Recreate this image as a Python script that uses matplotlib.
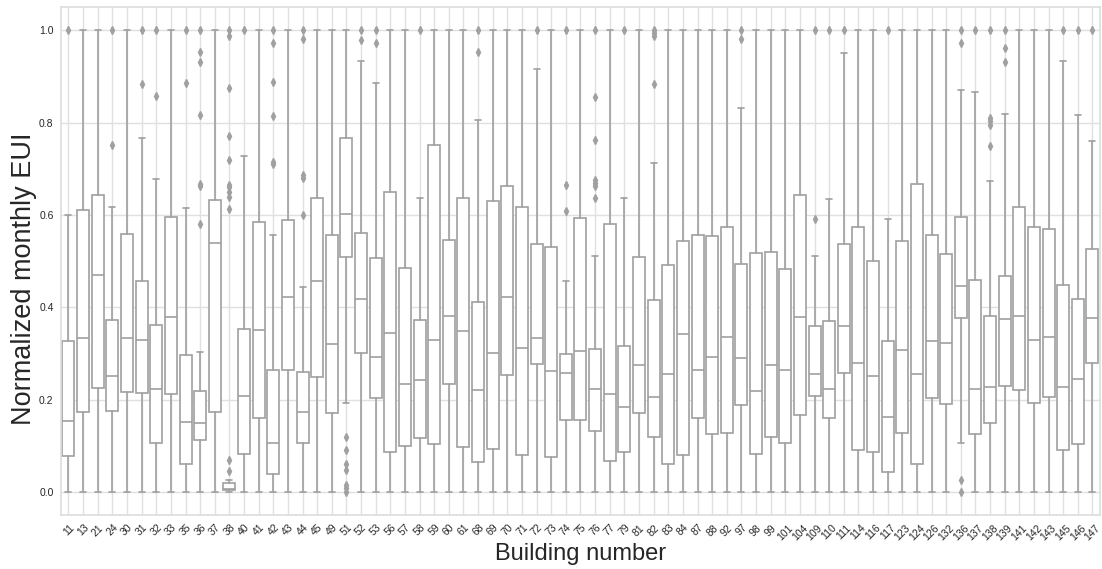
import matplotlib
matplotlib.use("Agg")
import matplotlib.pyplot as plt
import seaborn as sns

buildings = [11, 13, 21, 24, 30, 31, 32, 33, 35, 36, 37, 38, 40, 41, 42, 43, 44, 45, 49, 51,
             52, 53, 56, 57, 58, 59, 60, 61, 68, 69, 70, 71, 72, 73, 74, 75, 76, 77, 79, 81,
             82, 83, 84, 87, 88, 92, 97, 98, 99, 101, 104, 109, 110, 111, 114, 116, 117, 123, 124, 126,
             132, 136, 137, 138, 139, 141, 142, 143, 145, 146, 147]

q1 = [0.078, 0.173, 0.225, 0.175, 0.216, 0.215, 0.107, 0.212, 0.061, 0.113, 0.174, 0.003, 0.083, 0.161, 0.039, 0.264, 0.105, 0.250, 0.171, 0.508,
      0.301, 0.203, 0.087, 0.099, 0.116, 0.104, 0.234, 0.098, 0.065, 0.094, 0.254, 0.081, 0.278, 0.076, 0.156, 0.156, 0.131, 0.067, 0.086, 0.172,
      0.120, 0.060, 0.080, 0.160, 0.125, 0.127, 0.189, 0.082, 0.118, 0.106, 0.166, 0.208, 0.160, 0.258, 0.091, 0.087, 0.042, 0.127, 0.060, 0.203,
      0.191, 0.377, 0.126, 0.149, 0.229, 0.221, 0.193, 0.205, 0.090, 0.103, 0.279]

medians = [0.154, 0.334, 0.470, 0.251, 0.334, 0.330, 0.223, 0.378, 0.152, 0.149, 0.540, 0.006, 0.208, 0.351, 0.105, 0.422, 0.173, 0.457, 0.321, 0.602,
           0.418, 0.292, 0.344, 0.234, 0.242, 0.329, 0.381, 0.349, 0.220, 0.300, 0.423, 0.312, 0.334, 0.263, 0.257, 0.305, 0.223, 0.212, 0.183, 0.275,
           0.205, 0.256, 0.343, 0.264, 0.292, 0.335, 0.291, 0.218, 0.275, 0.264, 0.378, 0.256, 0.222, 0.359, 0.280, 0.252, 0.162, 0.308, 0.255, 0.326,
           0.322, 0.446, 0.223, 0.228, 0.375, 0.381, 0.330, 0.335, 0.227, 0.245, 0.377]

q3 = [0.326, 0.611, 0.644, 0.372, 0.558, 0.457, 0.361, 0.595, 0.297, 0.219, 0.633, 0.020, 0.353, 0.585, 0.264, 0.590, 0.259, 0.636, 0.556, 0.766,
      0.561, 0.506, 0.649, 0.485, 0.373, 0.751, 0.546, 0.637, 0.411, 0.631, 0.663, 0.618, 0.537, 0.530, 0.299, 0.594, 0.309, 0.580, 0.316, 0.508,
      0.415, 0.491, 0.544, 0.557, 0.555, 0.573, 0.493, 0.518, 0.519, 0.484, 0.644, 0.360, 0.371, 0.538, 0.575, 0.500, 0.326, 0.543, 0.667, 0.557,
      0.516, 0.595, 0.459, 0.382, 0.468, 0.617, 0.574, 0.569, 0.448, 0.419, 0.526]

whisker_low = [0.0] * 19 + [0.193] + [0.0] * 41 + [0.106] + [0.0] * 9

whisker_high = [0.600, 1.0, 1.0, 0.618, 1.0, 0.767, 0.678, 1.0, 0.616, 0.304, 1.0, 0.025, 0.728, 1.0, 0.557, 1.0, 0.445, 1.0, 1.0, 1.0,
                0.933, 0.887, 1.0, 1.0, 0.637, 1.0, 1.0, 1.0, 0.806, 1.0, 1.0, 1.0, 0.917, 1.0, 0.456, 1.0, 0.512, 1.0, 0.637, 1.0,
                0.713, 1.0, 1.0, 1.0, 1.0, 1.0, 0.832, 1.0, 1.0, 1.0, 1.0, 0.511, 0.634, 0.952, 1.0, 1.0, 0.591, 1.0, 1.0, 1.0,
                1.0, 0.871, 0.867, 0.674, 0.819, 1.0, 1.0, 1.0, 0.934, 0.816, 0.760]

outliers = {
    11: [1.0], 24: [0.751, 1.0], 31: [0.883, 1.0], 32: [0.859, 1.0], 35: [0.887, 1.0],
    36: [0.580, 0.664, 0.668, 0.816, 0.932, 0.954, 1.0],
    38: [0.045, 0.070, 0.614, 0.640, 0.650, 0.660, 0.665, 0.720, 0.772, 0.876, 0.989, 1.0],
    40: [1.0], 42: [0.710, 0.715, 0.815, 0.888, 0.973, 1.0], 44: [0.600, 0.681, 0.686, 0.982, 1.0],
    51: [0.12, 0.09, 0.06, 0.048, 0.015, 0.008, 0.0], 52: [0.98, 1.0], 53: [0.972, 1.0],
    58: [1.0], 68: [0.954, 1.0], 72: [1.0], 74: [0.608, 0.665, 1.0],
    76: [0.637, 0.662, 0.670, 0.677, 0.763, 0.855, 1.0], 79: [1.0], 82: [0.885, 0.987, 0.995, 1.0],
    97: [0.982, 1.0], 109: [0.592, 1.0], 110: [1.0], 111: [1.0], 117: [1.0],
    136: [0.972, 1.0, 0.026, 0.0], 137: [1.0], 138: [0.749, 0.795, 0.803, 0.810, 1.0],
    139: [0.931, 0.962, 1.0], 145: [1.0], 146: [1.0], 147: [1.0],
}

sns.set_style("whitegrid")
plt.rcParams['font.family'] = ['Liberation Sans', 'DejaVu Sans']

stats = []
for i, b in enumerate(buildings):
    stats.append({
        'med': medians[i], 'q1': q1[i], 'q3': q3[i],
        'whislo': whisker_low[i], 'whishi': whisker_high[i],
        'fliers': outliers.get(b, []), 'label': str(b),
    })

gray = '#a0a0a0'
lw = 1.2
fig = plt.figure(figsize=(11.02, 5.69), dpi=100)
ax = fig.add_axes([0.0555, 0.095, 0.9425, 0.892])

ax.bxp(stats, positions=range(len(buildings)), widths=0.82, patch_artist=True,
       boxprops=dict(facecolor='white', edgecolor=gray, linewidth=lw),
       medianprops=dict(color=gray, linewidth=lw),
       whiskerprops=dict(color=gray, linewidth=lw),
       capprops=dict(color=gray, linewidth=lw),
       flierprops=dict(marker='d', markerfacecolor=gray, markeredgecolor=gray, markersize=4))

ax.set_xlim(-0.5, len(buildings) - 0.5)
ax.set_ylim(-0.05, 1.05)
ax.set_xticks(range(len(buildings)))
ax.set_xticklabels([str(b) for b in buildings], rotation=45, fontsize=7.5)
ax.set_yticks([0.0, 0.2, 0.4, 0.6, 0.8, 1.0])
ax.set_yticklabels(['0.0', '0.2', '0.4', '0.6', '0.8', '1.0'], fontsize=7.5)
ax.tick_params(axis='both', pad=2, colors='#262626')
ax.grid(True, axis='both', color='#e0e0e0', linewidth=1)
ax.set_axisbelow(True)
for s in ax.spines.values():
    s.set_color('#dddddd')
    s.set_linewidth(1.2)

ax.set_xlabel('Building number', fontsize=17, labelpad=1)
ax.set_ylabel('Normalized monthly EUI', fontsize=19.5)
ax.yaxis.set_label_coords(-0.023, 0.465)

plt.savefig('out.png', dpi=100)
